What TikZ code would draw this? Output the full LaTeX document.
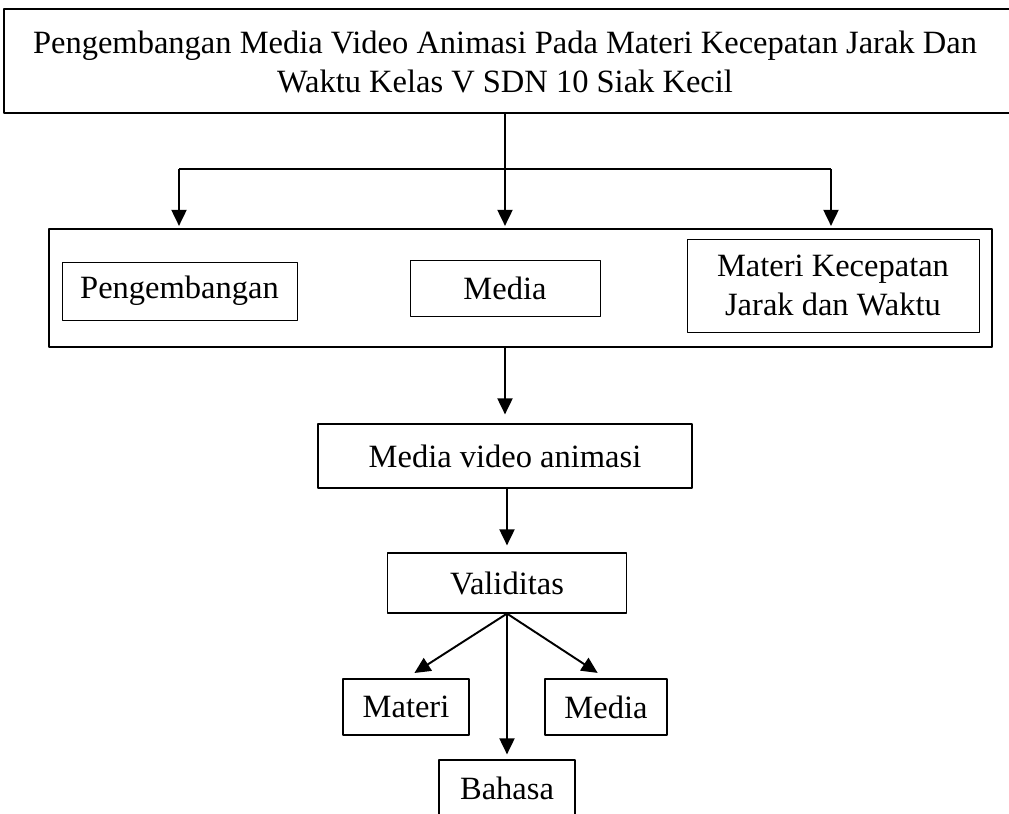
\documentclass[tikz,border=0pt]{standalone}
\usepackage{fontspec}
\setmainfont{Liberation Serif}
\usetikzlibrary{arrows.meta}

\begin{document}
\begin{tikzpicture}[x=0.02cm, y=-0.02cm, font=\fontsize{18.5}{22}\selectfont, line join=round, >={Triangle[length=0.32cm,width=0.3cm]},
	kotak/.style={draw, line width=0.7pt, inner sep=0pt, align=center},
	isi/.style={draw, line width=0.5pt, inner sep=0pt, align=center},
	panah/.style={->, line width=1.1pt}]
	\useasboundingbox (0,0) rectangle (1009,814);
	\clip (0,0) rectangle (1009,814);
	% judul (bingkai melewati tepi kanan)
	\draw[line width=0.7pt] (1040,9) -- (4,9) -- (4,113) -- (1040,113);
	\node[align=center, inner sep=0pt] (judul) at (505,62) {Pengembangan Media Video Animasi Pada Materi Kecepatan Jarak Dan\\Waktu Kelas V SDN 10 Siak Kecil};
	\coordinate (judulbawah) at (505,113);
	% kotak besar dan isinya
	\node[kotak, minimum width=18.86cm, minimum height=2.36cm] (wadah) at (520.5,288) {};
	\node[isi, minimum width=4.7cm, minimum height=1.16cm] (pengembangan) at (179.5,291) {Pengembangan};
	\node[isi, minimum width=3.8cm, minimum height=1.12cm] (media) at (505,288) {Media};
	\node[isi, minimum width=5.84cm, minimum height=1.86cm] (materikj) at (833,285.5) {Materi Kecepatan\\Jarak dan Waktu};
	% bawah
	\node[kotak, minimum width=7.48cm, minimum height=1.28cm] (mva) at (505,456) {Media video animasi};
	\node[kotak, minimum width=4.78cm, minimum height=1.2cm] (validitas) at (507,583) {Validitas};
	\node[kotak, minimum width=2.52cm, minimum height=1.12cm] (materi) at (406,707) {Materi};
	\node[kotak, minimum width=2.44cm, minimum height=1.12cm] (mediab) at (606,707) {Media};
	\node[kotak, minimum width=2.72cm, minimum height=1.12cm] (bahasa) at (507,788) {Bahasa};
	% cabang atas
	\coordinate (cabang) at (505,169);
	\coordinate (kiri) at (179,169);
	\coordinate (kanan) at (831,169);
	\draw[line width=1.1pt] (judulbawah) -- (cabang);
	\draw[line width=1.1pt] (kiri) -- (kanan);
	\draw[panah, shorten >=0.05cm] (kiri) -- (kiri |- wadah.north);
	\draw[panah, shorten >=0.05cm] (cabang) -- (cabang |- wadah.north);
	\draw[panah, shorten >=0.05cm] (kanan) -- (kanan |- wadah.north);
	% alur ke bawah
	\draw[panah, shorten >=0.18cm] (wadah.south -| mva.north) -- (mva.north);
	\draw[panah, shorten >=0.14cm] (mva.south -| validitas.north) -- (validitas.north);
	\draw[panah, shorten >=0.2cm] (validitas.south) -- (materi.north);
	\draw[panah, shorten >=0.2cm] (validitas.south) -- (mediab.north);
	\draw[panah, shorten >=0.1cm] (validitas.south) -- (bahasa.north);
\end{tikzpicture}
\end{document}
